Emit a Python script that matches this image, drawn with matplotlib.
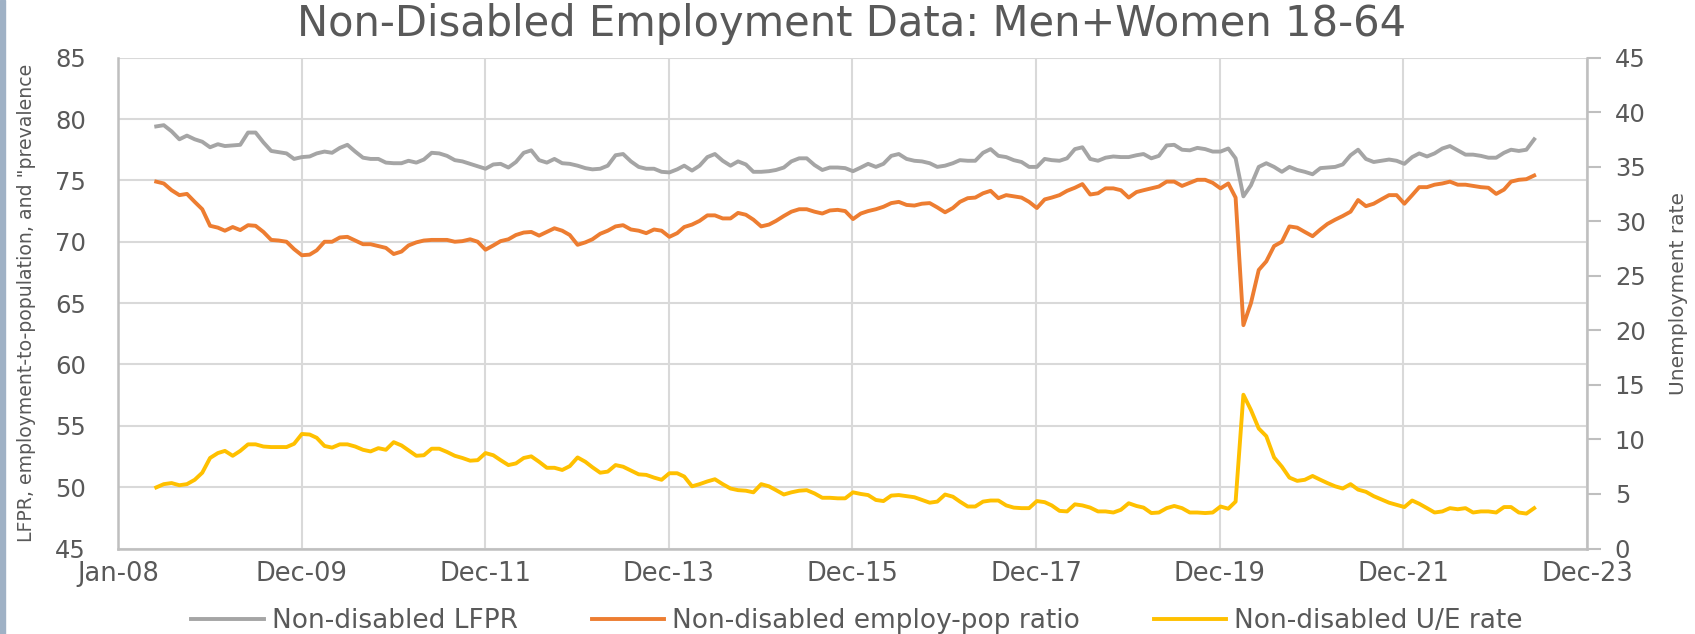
import matplotlib
matplotlib.use('Agg')
import matplotlib.pyplot as plt
import matplotlib.dates as mdates
import pandas as pd
from matplotlib.patches import Rectangle

# monthly data, Jun 2008 .. Jun 2023
months = pd.date_range('2008-06-01', '2023-06-01', freq='MS')

lfpr = [79.4, 79.5, 79.0, 78.35, 78.65, 78.35, 78.15,
        77.7, 77.95, 77.8, 77.85, 77.9, 78.9, 78.9, 78.1, 77.4, 77.3, 77.2, 76.75,
        76.9, 76.95, 77.2, 77.35, 77.25, 77.65, 77.9, 77.35, 76.85, 76.75, 76.75, 76.45,
        76.4, 76.4, 76.6, 76.45, 76.7, 77.25, 77.2, 77.0, 76.65, 76.55, 76.35, 76.15,
        75.95, 76.3, 76.35, 76.05, 76.5, 77.25, 77.45, 76.65, 76.45, 76.75, 76.4, 76.35,
        76.2, 76.0, 75.9, 75.95, 76.2, 77.05, 77.15, 76.55, 76.1, 75.95, 75.95, 75.7,
        75.65, 75.9, 76.2, 75.8, 76.2, 76.9, 77.15, 76.6, 76.2, 76.55, 76.3, 75.7,
        75.7, 75.75, 75.85, 76.05, 76.55, 76.8, 76.8, 76.25, 75.85, 76.05, 76.05, 76.0,
        75.75, 76.05, 76.35, 76.1, 76.35, 77.0, 77.15, 76.75, 76.6, 76.55, 76.4, 76.1,
        76.2, 76.4, 76.65, 76.6, 76.6, 77.25, 77.55, 77.0, 76.9, 76.65, 76.5, 76.1,
        76.1, 76.75, 76.65, 76.6, 76.8, 77.55, 77.7, 76.75, 76.6, 76.85, 76.95, 76.9,
        76.9, 77.05, 77.15, 76.8, 77.0, 77.85, 77.9, 77.5, 77.45, 77.65, 77.55, 77.35,
        77.35, 77.6, 76.8, 73.7, 74.6, 76.1, 76.4, 76.1, 75.7, 76.1, 75.85, 75.7,
        75.5, 76.0, 76.05, 76.1, 76.3, 77.05, 77.5, 76.75, 76.5, 76.6, 76.7, 76.6,
        76.35, 76.9, 77.2, 76.95, 77.2, 77.6, 77.8, 77.45, 77.1, 77.1, 77.0, 76.85,
        76.85, 77.25, 77.5, 77.4, 77.5, 78.35]

epop = [74.9, 74.75, 74.2, 73.8, 73.9, 73.25, 72.65,
        71.3, 71.15, 70.9, 71.2, 70.95, 71.35, 71.3, 70.8, 70.15, 70.1, 70.0, 69.4,
        68.9, 68.95, 69.3, 70.0, 70.0, 70.35, 70.4, 70.1, 69.8, 69.8, 69.65, 69.5,
        69.0, 69.2, 69.7, 69.95, 70.1, 70.15, 70.15, 70.15, 70.0, 70.05, 70.2, 70.0,
        69.35, 69.7, 70.05, 70.2, 70.55, 70.75, 70.8, 70.5, 70.8, 71.1, 70.9, 70.55,
        69.75, 69.95, 70.2, 70.65, 70.9, 71.25, 71.35, 71.0, 70.9, 70.7, 71.0, 70.9,
        70.4, 70.7, 71.2, 71.4, 71.7, 72.15, 72.15, 71.9, 71.9, 72.35, 72.2, 71.8,
        71.25, 71.4, 71.7, 72.1, 72.45, 72.65, 72.65, 72.45, 72.3, 72.55, 72.6, 72.5,
        71.85, 72.3, 72.5, 72.65, 72.85, 73.15, 73.25, 73.0, 72.95, 73.1, 73.15, 72.8,
        72.4, 72.75, 73.25, 73.55, 73.6, 73.95, 74.15, 73.55, 73.8, 73.7, 73.6, 73.25,
        72.75, 73.45, 73.6, 73.8, 74.15, 74.4, 74.7, 73.85, 73.95, 74.35, 74.35, 74.2,
        73.6, 74.05, 74.2, 74.35, 74.5, 74.9, 74.9, 74.55, 74.8, 75.05, 75.05, 74.8,
        74.35, 74.75, 73.6, 63.2, 65.0, 67.7, 68.4, 69.65, 70.0, 71.25, 71.15, 70.8,
        70.45, 71.0, 71.45, 71.8, 72.1, 72.45, 73.4, 72.9, 73.1, 73.45, 73.8, 73.8,
        73.1, 73.8, 74.45, 74.45, 74.65, 74.75, 74.9, 74.65, 74.65, 74.55, 74.45, 74.4,
        73.9, 74.25, 74.9, 75.05, 75.1, 75.4]

unemp = [5.6, 5.9, 6.0, 5.8, 5.9, 6.3, 6.95,
         8.3, 8.75, 8.95, 8.5, 8.95, 9.55, 9.55, 9.35, 9.3, 9.3, 9.3, 9.6,
         10.5, 10.45, 10.15, 9.4, 9.25, 9.55, 9.55, 9.35, 9.05, 8.9, 9.2, 9.05,
         9.75, 9.45, 9.0, 8.5, 8.55, 9.15, 9.15, 8.85, 8.5, 8.3, 8.05, 8.1,
         8.75, 8.55, 8.1, 7.65, 7.8, 8.3, 8.45, 7.95, 7.4, 7.4, 7.2, 7.55,
         8.35, 7.95, 7.45, 6.95, 7.05, 7.65, 7.5, 7.15, 6.8, 6.75, 6.5, 6.3,
         6.9, 6.9, 6.6, 5.7, 5.9, 6.15, 6.35, 5.9, 5.5, 5.35, 5.3, 5.15,
         5.9, 5.7, 5.35, 4.95, 5.15, 5.3, 5.35, 5.05, 4.65, 4.65, 4.6, 4.6,
         5.15, 5.0, 4.9, 4.45, 4.35, 4.85, 4.9, 4.8, 4.7, 4.45, 4.2, 4.3,
         4.95, 4.75, 4.3, 3.85, 3.85, 4.3, 4.4, 4.4, 3.95, 3.75, 3.7, 3.7,
         4.35, 4.25, 3.95, 3.45, 3.4, 4.05, 3.95, 3.75, 3.4, 3.4, 3.3, 3.55,
         4.15, 3.9, 3.75, 3.25, 3.3, 3.7, 3.9, 3.7, 3.3, 3.3, 3.25, 3.3,
         3.85, 3.65, 4.3, 14.1, 12.7, 11.0, 10.3, 8.35, 7.5, 6.5, 6.2, 6.3,
         6.65, 6.3, 6.0, 5.7, 5.5, 5.9, 5.4, 5.2, 4.8, 4.5, 4.2, 4.0,
         3.8, 4.4, 4.1, 3.7, 3.3, 3.4, 3.7, 3.6, 3.7, 3.3, 3.4, 3.4,
         3.3, 3.8, 3.8, 3.3, 3.2, 3.7]

labels = ['Non-disabled LFPR', 'Non-disabled employ-pop ratio', 'Non-disabled U/E rate']
colors = ['#A5A5A5', '#ED7D31', '#FFC000']

TXT = '#595959'
W, H = 1695, 634

fig = plt.figure(figsize=(W / 100, H / 100), dpi=100)
fig.subplots_adjust(left=118 / W, right=1587 / W, top=1 - 57.7 / H, bottom=1 - 548.5 / H)
ax = fig.add_subplot(111)
ax2 = ax.twinx()

l1, = ax.plot(months, lfpr, color=colors[0], lw=2.8, solid_joinstyle='round')
l2, = ax.plot(months, epop, color=colors[1], lw=2.8, solid_joinstyle='round')
l3, = ax2.plot(months, unemp, color=colors[2], lw=2.8, solid_joinstyle='round')

# x axis: ticks every 730 days starting Jan 1 2008
start = mdates.date2num(pd.Timestamp('2008-01-01'))
xt = [start + 730 * k for k in range(9)]
ax.set_xlim(xt[0], xt[-1])
ax.set_xticks(xt)
ax.xaxis.set_major_formatter(mdates.DateFormatter('%b-%y'))

ax.set_ylim(45, 85)
ax.set_yticks(range(45, 86, 5))
ax2.set_ylim(0, 45)
ax2.set_yticks(range(0, 46, 5))

ax.grid(True, color='#D9D9D9', lw=1.5)
ax.set_axisbelow(True)

for s in ['top', 'right']:
    ax.spines[s].set_visible(False)
for s in ['left', 'bottom']:
    ax.spines[s].set_color('#BFBFBF')
    ax.spines[s].set_linewidth(1.8)
for s in ['top', 'left', 'bottom']:
    ax2.spines[s].set_visible(False)
ax2.spines['right'].set_color('#BFBFBF')
ax2.spines['right'].set_linewidth(1.8)

ax.tick_params(axis='x', length=0, pad=9, labelsize=18.5, labelcolor=TXT)
ax.tick_params(axis='y', length=0, pad=23, labelsize=17.5, labelcolor=TXT)
ax2.tick_params(axis='y', length=10, width=1.5, color='#BFBFBF', pad=10,
                labelsize=17.5, labelcolor=TXT)

ax.set_ylabel('LFPR, employment-to-population, and "prevalence', fontsize=13.6, color=TXT)
ax.yaxis.set_label_coords(-0.056, 0.5)
ax2.set_ylabel('Unemployment rate', fontsize=14.5, color=TXT)
ax2.yaxis.set_label_coords(1.056, 0.52)

fig.text(852 / W, 1 - 24 / H, 'Non-Disabled Employment Data: Men+Women 18-64',
         ha='center', va='center', fontsize=30, color=TXT)

fig.legend([l1, l2, l3], labels, loc='center', bbox_to_anchor=(857 / W, 1 - 621 / H),
           ncol=3, frameon=False, fontsize=19, handlelength=2.75, handletextpad=0.3,
           columnspacing=2.8, labelcolor=TXT)

# thin blue-grey strip on the left edge of the screenshot
fig.patches.append(Rectangle((0, 0), 5 / W, 1, transform=fig.transFigure,
                             color='#9FB1C5', zorder=0))

fig.savefig('out.png', dpi=100)
